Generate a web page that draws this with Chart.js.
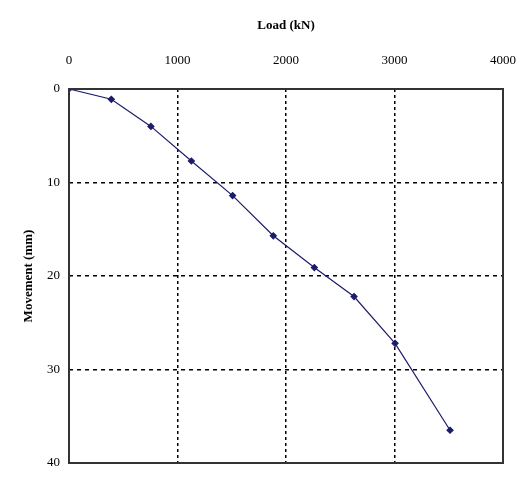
<!DOCTYPE html>
<html>
<head>
<meta charset="utf-8">
<script src="https://cdn.jsdelivr.net/npm/chart.js@4"></script>
<style>
  html,body{margin:0;padding:0;background:#fff;}
  #wrap{width:522px;height:477px;}
</style>
</head>
<body>
<div id="wrap"><canvas id="c" width="522" height="477"></canvas></div>
<script>
// load test readings
const loads = [0, 390, 755, 1128, 1508, 1883, 2261, 2627, 3005, 3512];
const movements = [0, 1.1, 4.0, 7.7, 11.4, 15.7, 19.1, 22.2, 27.2, 36.5];
const xTicks = [0, 1000, 2000, 3000, 4000];
const yTicks = [0, 10, 20, 30, 40];

const lineColor = '#1c1c6b';
const serif = "'Liberation Serif', 'Times New Roman', serif";

const points = loads.map((l, i) => ({x: l, y: movements[i]}));

// frame round the plot area
const frame = {
  id: 'frame',
  afterDatasetsDraw(chart){
    const a = chart.chartArea, ctx = chart.ctx;
    ctx.save();
    ctx.strokeStyle = '#333';
    ctx.lineWidth = 2;
    ctx.strokeRect(a.left, a.top, a.right - a.left, a.bottom - a.top);
    ctx.restore();
  }
};

const edge = (v, list) => v === list[0] || v === list[list.length - 1];

new Chart(document.getElementById('c').getContext('2d'), {
  type: 'scatter',
  data: {
    datasets: [{
      data: points,
      showLine: true,
      borderColor: lineColor,
      backgroundColor: lineColor,
      borderWidth: 1.2,
      pointStyle: 'rectRot',
      pointRadius: 3,
      pointHoverRadius: 3
    }]
  },
  options: {
    responsive: false,
    animation: false,
    layout: {padding: {left: 10, top: 12, right: 19, bottom: 14}},
    plugins: {legend: {display: false}, tooltip: {enabled: false}},
    scales: {
      x: {
        type: 'linear',
        position: 'top',
        min: xTicks[0], max: xTicks[xTicks.length - 1],
        afterBuildTicks: s => { s.ticks = xTicks.map(v => ({value: v})); },
        afterFit: s => { s.height = 77; },
        ticks: {color: '#000', padding: 3, maxRotation: 0, callback: v => String(v),
                font: {family: serif, size: 13}},
        grid: {
          drawTicks: true,
          tickLength: 18,
          tickColor: 'transparent',
          lineWidth: 1.5,
          color: c => edge(c.tick.value, xTicks) ? 'transparent' : '#000'
        },
        border: {display: false, dash: [3, 3]},
        title: {display: true, text: 'Load (kN)', color: '#000', padding: {top: 6, bottom: 0},
                font: {family: serif, size: 13, weight: 'bold'}}
      },
      y: {
        type: 'linear',
        reverse: true,
        min: yTicks[0], max: yTicks[yTicks.length - 1],
        afterBuildTicks: s => { s.ticks = yTicks.map(v => ({value: v})); },
        afterFit: s => { s.width = 59; },
        ticks: {color: '#000', padding: 2, callback: v => String(v), font: {family: serif, size: 13}},
        grid: {
          drawTicks: true,
          tickLength: 7,
          tickColor: 'transparent',
          lineWidth: 1.5,
          color: c => edge(c.tick.value, yTicks) ? 'transparent' : '#000'
        },
        border: {display: false, dash: [4, 4]},
        title: {display: true, text: 'Movement (mm)', color: '#000', padding: {top: 11, bottom: 0},
                font: {family: serif, size: 13, weight: 'bold'}}
      }
    }
  },
  plugins: [frame]
});
</script>
</body>
</html>
